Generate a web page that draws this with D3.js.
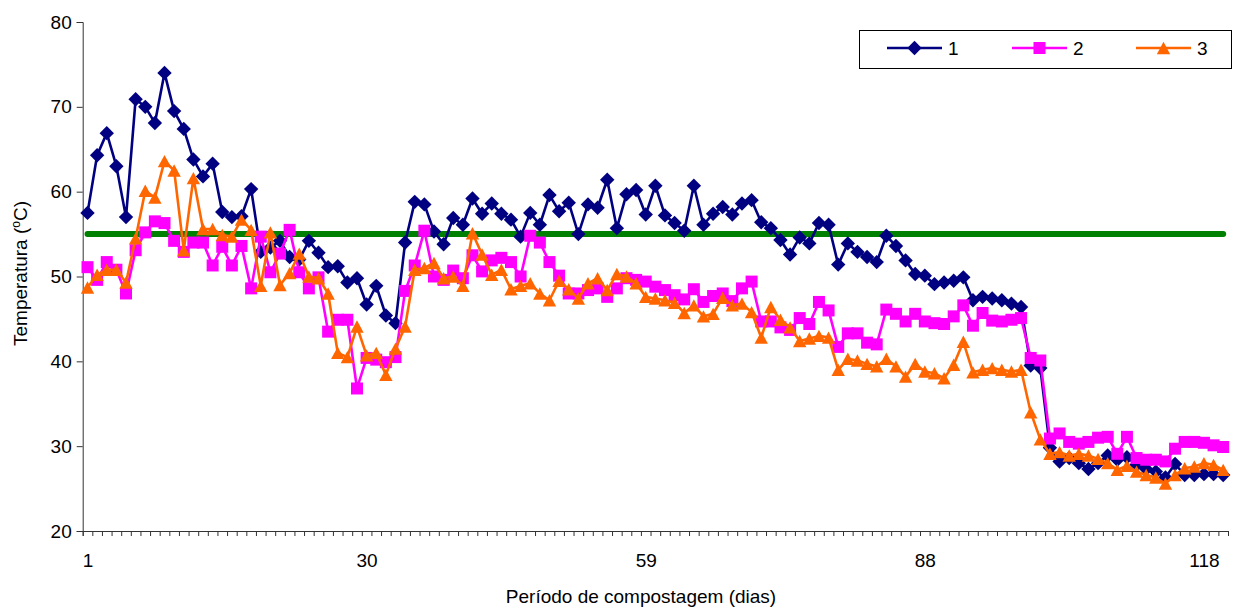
<!DOCTYPE html>
<html>
<head>
<meta charset="utf-8">
<script src="https://cdn.jsdelivr.net/npm/d3@7"></script>
<style>
  html, body { margin: 0; padding: 0; background: #fff; }
  svg { display: block; font-family: "Liberation Sans", Arial, sans-serif; }
</style>
</head>
<body>
<svg id="chart" width="1238" height="609"></svg>
<script>
// Temperatura diária das leiras 1, 2 e 3 ao longo da compostagem
const seriesNames = ["1", "2", "3"];
const seriesColors = ["#000080", "#FF00FF", "#FF6600"];

const temp1 = [
  57.5, 64.3, 66.9, 63.0, 57.0, 70.9, 70.0, 68.1, 74.0, 69.5,
  67.4, 63.8, 61.8, 63.3, 57.6, 57.0, 57.1, 60.3, 52.9, 53.4,
  54.2, 52.3, 52.0, 54.2, 52.8, 51.1, 51.2, 49.3, 49.8, 46.7,
  48.9, 45.4, 44.5, 54.0, 58.8, 58.5, 55.3, 53.8, 56.9, 56.1,
  59.2, 57.4, 58.6, 57.4, 56.7, 54.7, 57.5, 56.1, 59.6, 57.7,
  58.7, 55.0, 58.5, 58.1, 61.4, 55.7, 59.7, 60.2, 57.3, 60.7,
  57.2, 56.3, 55.4, 60.7, 56.1, 57.4, 58.2, 57.3, 58.6, 59.0,
  56.4, 55.7, 54.3, 52.6, 54.6, 53.9, 56.3, 56.1, 51.4, 53.9,
  52.9, 52.3, 51.7, 54.8, 53.6, 51.9, 50.3, 50.1, 49.1, 49.3,
  49.5, 49.9, 47.2, 47.6, 47.4, 47.2, 46.8, 46.4, 39.5, 39.2,
  29.8, 28.2, 28.6, 28.0, 27.3, 28.0, 28.9, 28.4, 28.7, 27.8,
  27.3, 27.0, 26.3, 27.9, 26.6, 26.6, 26.7, 26.7, 26.6
];

const temp2 = [
  51.1, 49.6, 51.7, 50.8, 48.0, 53.1, 55.2, 56.5, 56.3, 54.2,
  52.9, 54.0, 54.0, 51.3, 53.5, 51.3, 53.6, 48.6, 54.7, 50.5,
  52.7, 55.5, 50.5, 48.6, 49.9, 43.5, 44.9, 44.9, 36.8, 40.4,
  40.2, 39.9, 40.5, 48.3, 51.3, 55.4, 50.0, 49.6, 50.7, 49.8,
  52.5, 50.6, 51.9, 52.2, 51.7, 50.0, 54.8, 54.0, 51.7, 50.1,
  48.0, 48.0, 48.4, 48.6, 47.6, 48.6, 49.8, 49.6, 49.4, 48.8,
  48.4, 47.8, 47.3, 48.5, 47.0, 47.7, 48.0, 47.1, 48.6, 49.4,
  44.7, 44.7, 44.0, 43.7, 45.1, 44.4, 47.0, 46.0, 41.7, 43.3,
  43.3, 42.2, 42.0, 46.1, 45.6, 44.7, 45.6, 44.7, 44.5, 44.4,
  45.3, 46.6, 44.2, 45.7, 44.8, 44.7, 44.9, 45.1, 40.4, 40.1,
  30.9, 31.5, 30.5, 30.3, 30.5, 31.0, 31.1, 29.1, 31.1, 28.6,
  28.4, 28.4, 28.2, 29.7, 30.5, 30.5, 30.4, 30.1, 29.9
];

const temp3 = [
  48.7, 50.2, 50.8, 50.8, 49.3, 54.5, 60.1, 59.3, 63.6, 62.5,
  53.1, 61.6, 55.6, 55.6, 54.9, 54.7, 56.7, 55.5, 48.9, 55.2,
  49.0, 50.4, 52.7, 50.0, 49.8, 48.0, 41.0, 40.5, 44.1, 40.7,
  41.0, 38.4, 41.5, 44.1, 50.8, 51.0, 51.6, 49.8, 50.0, 48.9,
  55.1, 52.6, 50.2, 50.8, 48.5, 48.9, 49.2, 48.0, 47.2, 49.5,
  48.5, 47.4, 49.2, 49.8, 48.4, 50.3, 50.0, 49.2, 47.6, 47.4,
  47.2, 46.9, 45.7, 46.6, 45.3, 45.6, 47.5, 46.6, 46.8, 45.8,
  42.8, 46.4, 44.9, 44.0, 42.4, 42.7, 43.0, 42.8, 39.0, 40.3,
  40.1, 39.7, 39.4, 40.3, 39.4, 38.2, 39.7, 38.8, 38.6, 38.0,
  39.6, 42.3, 38.7, 39.0, 39.2, 39.0, 38.8, 39.0, 34.0, 30.8,
  29.1, 29.3, 28.9, 29.1, 28.9, 28.5, 28.0, 27.2, 27.7, 27.0,
  26.6, 26.3, 25.6, 26.6, 27.4, 27.6, 28.0, 27.8, 27.2
];

// Linha de referência (55 °C)
const referenceTemp = 55;

// Rótulos do eixo x (posição na sequência de leituras → dia)
const xTickIndex = [0, 29, 58, 87, 116];
const xTickLabels = ["1", "30", "59", "88", "118"];
const yTicks = [20, 30, 40, 50, 60, 70, 80];

const svg = d3.select("#chart");
const n = temp1.length;
const plot = { left: 82.7, right: 1228, top: 22, bottom: 531 };

const idx = d3.range(n);
const x = d3.scalePoint().domain(idx).range([plot.left, plot.right]).padding(0.5);
const xEdge = d3.scaleLinear().domain([0, n]).range([plot.left, plot.right]);
const y = d3.scaleLinear().domain([20, 80]).range([plot.bottom, plot.top]);

const axisColor = "#333";

// Eixo Y
const gy = svg.append("g")
  .attr("transform", `translate(${plot.left},0)`)
  .call(d3.axisLeft(y).tickValues(yTicks).tickSize(6).tickPadding(5).tickFormat(d3.format("d")));
gy.select(".domain").attr("stroke", axisColor);
gy.selectAll(".tick line").attr("stroke", axisColor);
gy.selectAll(".tick text").attr("font-size", 19).attr("fill", "#000")
  .attr("font-family", "Liberation Sans, Arial, sans-serif");

// Eixo X: marcas entre categorias
const gx = svg.append("g")
  .attr("transform", `translate(0,${plot.bottom})`)
  .call(d3.axisBottom(xEdge).tickValues(d3.range(0, n + 1)).tickSize(5).tickFormat(""));
gx.select(".domain").attr("stroke", axisColor);
gx.selectAll(".tick line").attr("stroke", axisColor);

// Eixo X: rótulos
const gxl = svg.append("g")
  .attr("transform", `translate(0,${plot.bottom})`)
  .call(d3.axisBottom(x).tickValues(xTickIndex).tickSize(0).tickPadding(23)
    .tickFormat((d, i) => xTickLabels[i]));
gxl.select(".domain").remove();
gxl.selectAll(".tick text").attr("font-size", 19).attr("fill", "#000")
  .attr("font-family", "Liberation Sans, Arial, sans-serif");

// Títulos dos eixos
svg.append("text")
  .attr("x", 641)
  .attr("y", 603)
  .attr("text-anchor", "middle")
  .attr("font-size", 19)
  .text("Período de compostagem (dias)");

const yTitle = svg.append("text")
  .attr("transform", `translate(27,${(plot.top + plot.bottom) / 2 - 3}) rotate(-90)`)
  .attr("text-anchor", "middle")
  .attr("font-size", 19);
yTitle.append("tspan").text("Temperatura (");
yTitle.append("tspan").attr("font-size", 12).attr("dy", -7).text("o");
yTitle.append("tspan").attr("dy", 7).text("C)");

// Linha de referência
svg.append("line")
  .attr("x1", x(0)).attr("x2", x(n - 1))
  .attr("y1", y(referenceTemp)).attr("y2", y(referenceTemp))
  .attr("stroke", "#008000").attr("stroke-width", 6).attr("stroke-linecap", "round");

// Formas dos marcadores
const markerPath = {
  diamond: r => `M0,${-r}L${r},0L0,${r}L${-r},0Z`,
  square: r => `M${-r},${-r}H${r}V${r}H${-r}Z`,
  triangle: r => `M0,${-r}L${r * 1.08},${r}L${-r * 1.08},${r}Z`
};
const markerSize = { diamond: 7.2, square: 6, triangle: 6.2 };
const shapes = ["diamond", "square", "triangle"];
const allSeries = [temp1, temp2, temp3];

const line = d3.line().x((d, i) => x(i)).y(d => y(d));

allSeries.forEach((vals, s) => {
  const g = svg.append("g");
  g.append("path")
    .datum(vals)
    .attr("d", line)
    .attr("fill", "none")
    .attr("stroke", seriesColors[s])
    .attr("stroke-width", 2.6)
    .attr("stroke-linejoin", "round");
  g.selectAll("path.mk")
    .data(vals)
    .join("path")
    .attr("class", "mk")
    .attr("transform", (d, i) => `translate(${x(i)},${y(d)})`)
    .attr("d", markerPath[shapes[s]](markerSize[shapes[s]]))
    .attr("fill", seriesColors[s]);
});

// Legenda
const legend = svg.append("g");
legend.append("rect")
  .attr("x", 859.5).attr("y", 30.5).attr("width", 372).attr("height", 38)
  .attr("fill", "#fff").attr("stroke", "#000").attr("stroke-width", 1);
const legendX = [887, 1012, 1136];
seriesNames.forEach((name, s) => {
  const lg = legend.append("g").attr("transform", `translate(${legendX[s]},48)`);
  lg.append("line").attr("x1", 0).attr("x2", 55).attr("y1", 0).attr("y2", 0)
    .attr("stroke", seriesColors[s]).attr("stroke-width", 2.6);
  lg.append("path").attr("transform", "translate(27.5,0)")
    .attr("d", markerPath[shapes[s]](markerSize[shapes[s]]))
    .attr("fill", seriesColors[s]);
  lg.append("text").attr("x", 61).attr("y", 7).attr("font-size", 19).text(name);
});
</script>
</body>
</html>
